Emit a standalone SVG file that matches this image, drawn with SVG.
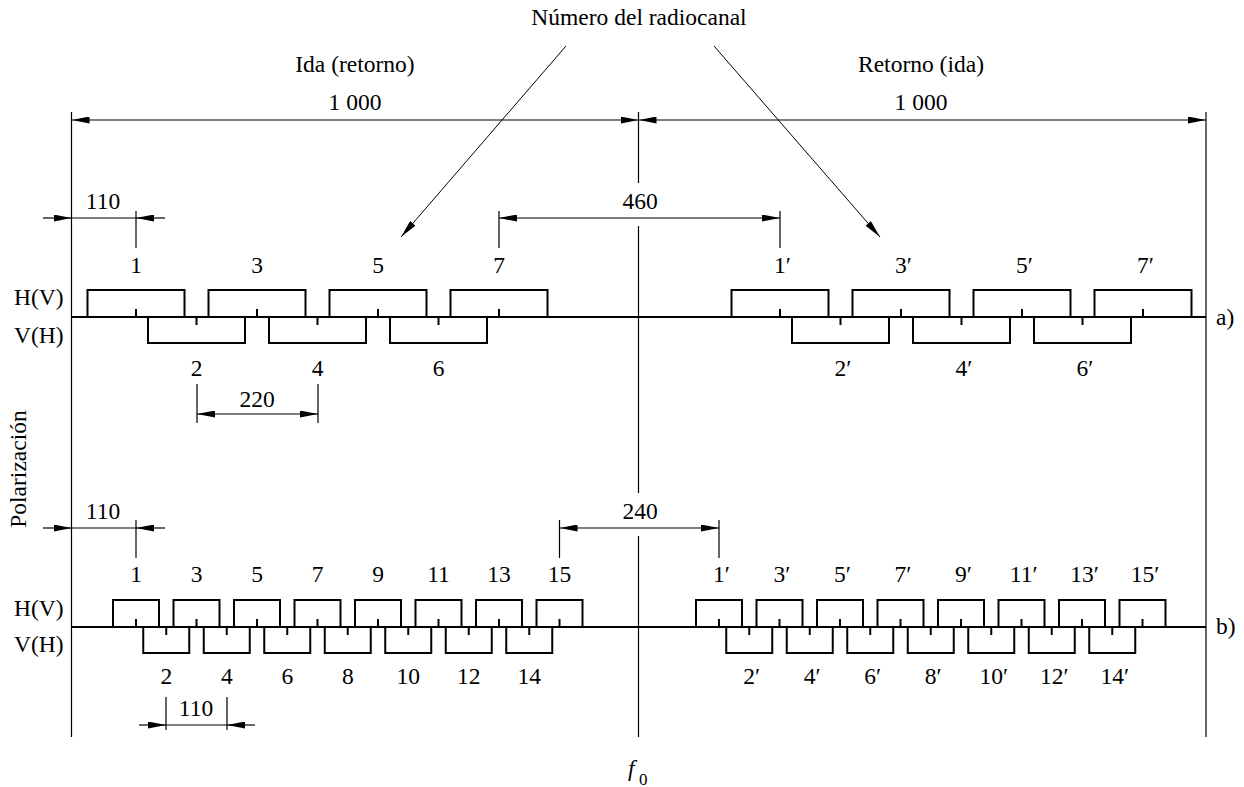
<svg xmlns="http://www.w3.org/2000/svg" width="1244" height="787" viewBox="0 0 1244 787">
<style>
.box{fill:none;stroke:#000;stroke-width:2}
.tk{stroke:#000;stroke-width:2;fill:none}
.ln{stroke:#000;stroke-width:1.2;fill:none}
.pt{stroke:#000;stroke-width:1;fill:none}
.t{font-family:"Liberation Serif","Times New Roman",serif;font-size:23.5px;fill:#000}
.c{text-anchor:middle}
</style>
<defs>
<marker id="ah" viewBox="0 0 18 7" refX="18" refY="3.5" markerWidth="18" markerHeight="7" markerUnits="userSpaceOnUse" orient="auto-start-reverse">
<path d="M0,0 L18,3.5 L0,7 z" fill="#000"/>
</marker>
</defs>
<rect width="1244" height="787" fill="#fff"/>

<g id="frame">
<path class="ln" d="M71.5,112V737"/>
<path class="ln" d="M638.5,112V183M638.5,226V493M638.5,536V737"/>
<path class="ln" d="M1206,112V737"/>
<path class="box" d="M71.5,317H1206"/>
<path class="box" d="M71.5,627H1206"/>
</g>

<g id="labels">
<text class="t c" x="639" y="25">Número del radiocanal</text>
<text class="t c" x="355" y="72">Ida (retorno)</text>
<text class="t c" x="921" y="72">Retorno (ida)</text>
<text class="t c" x="355" y="110">1 000</text>
<text class="t c" x="921" y="110">1 000</text>
<text class="t" x="14" y="305">H(V)</text>
<text class="t" x="14" y="343">V(H)</text>
<text class="t" x="14" y="616">H(V)</text>
<text class="t" x="14" y="652">V(H)</text>
<text class="t" x="1216" y="325">a)</text>
<text class="t" x="1216" y="634">b)</text>
<text class="t c" transform="translate(26,469) rotate(-90)">Polarización</text>
<text class="t" x="628" y="776" font-size="26"><tspan font-style="italic">f</tspan><tspan x="639" y="785" font-size="17">0</tspan></text>
<text class="t c" x="103" y="209">110</text>
<text class="t c" x="640" y="209">460</text>
<text class="t c" x="257" y="407">220</text>
<text class="t c" x="103" y="519">110</text>
<text class="t c" x="640" y="519">240</text>
<text class="t c" x="196" y="716">110</text>
</g>

<g id="connectors">
<path class="pt" d="M566,46L401,237" marker-end="url(#ah)"/>
<path class="pt" d="M714,46L880,237" marker-end="url(#ah)"/>
<path class="ln" d="M71.5,120H638.5" marker-start="url(#ah)" marker-end="url(#ah)"/>
<path class="ln" d="M638.5,120H1206" marker-start="url(#ah)" marker-end="url(#ah)"/>
<path class="ln" d="M43,218H71.5" marker-end="url(#ah)"/>
<path class="ln" d="M71.5,218H136"/>
<path class="ln" d="M165,218H136" marker-end="url(#ah)"/>
<path class="ln" d="M136,211V248"/>
<path class="ln" d="M499,218H780" marker-start="url(#ah)" marker-end="url(#ah)"/>
<path class="ln" d="M499,211V248M780,211V248"/>
<path class="ln" d="M197,414H318" marker-start="url(#ah)" marker-end="url(#ah)"/>
<path class="ln" d="M197,384V423M318,384V423"/>
<path class="ln" d="M43,528H71.5" marker-end="url(#ah)"/>
<path class="ln" d="M71.5,528H136"/>
<path class="ln" d="M165,528H136" marker-end="url(#ah)"/>
<path class="ln" d="M136,520V558"/>
<path class="ln" d="M559.5,528H719" marker-start="url(#ah)" marker-end="url(#ah)"/>
<path class="ln" d="M559.5,520V558M719,520V558"/>
<path class="ln" d="M139,725H166" marker-end="url(#ah)"/>
<path class="ln" d="M166,725H227"/>
<path class="ln" d="M255,725H227" marker-end="url(#ah)"/>
<path class="ln" d="M166,697V730M227,697V730"/>
</g>

<!-- Row a, left -->
<g id="a-1"><path class="box" d="M87.5,317V290H184.5V317"/><path class="tk" d="M136,317V309"/><text class="t c" x="136" y="273">1</text></g>
<g id="a-3"><path class="box" d="M208.5,317V290H305.5V317"/><path class="tk" d="M257,317V309"/><text class="t c" x="257" y="273">3</text></g>
<g id="a-5"><path class="box" d="M329.5,317V290H426.5V317"/><path class="tk" d="M378,317V309"/><text class="t c" x="378" y="273">5</text></g>
<g id="a-7"><path class="box" d="M450.5,317V290H547.5V317"/><path class="tk" d="M499,317V309"/><text class="t c" x="499" y="273">7</text></g>
<g id="a-2"><path class="box" d="M148,317V343H245V317"/><path class="tk" d="M196.5,317V325"/><text class="t c" x="196.5" y="376">2</text></g>
<g id="a-4"><path class="box" d="M269,317V343H366V317"/><path class="tk" d="M317.5,317V325"/><text class="t c" x="317.5" y="376">4</text></g>
<g id="a-6"><path class="box" d="M390,317V343H487V317"/><path class="tk" d="M438.5,317V325"/><text class="t c" x="438.5" y="376">6</text></g>
<!-- Row a, right -->
<g id="a-1p"><path class="box" d="M731.5,317V290H828.5V317"/><path class="tk" d="M780,317V309"/><text class="t" x="774.1" y="273">1′</text></g>
<g id="a-3p"><path class="box" d="M852.5,317V290H949.5V317"/><path class="tk" d="M901,317V309"/><text class="t" x="895.1" y="273">3′</text></g>
<g id="a-5p"><path class="box" d="M973.5,317V290H1070.5V317"/><path class="tk" d="M1022,317V309"/><text class="t" x="1016.1" y="273">5′</text></g>
<g id="a-7p"><path class="box" d="M1094.5,317V290H1191.5V317"/><path class="tk" d="M1143,317V309"/><text class="t" x="1137.1" y="273">7′</text></g>
<g id="a-2p"><path class="box" d="M792,317V343H889V317"/><path class="tk" d="M840.5,317V325"/><text class="t" x="834.6" y="376">2′</text></g>
<g id="a-4p"><path class="box" d="M913,317V343H1010V317"/><path class="tk" d="M961.5,317V325"/><text class="t" x="955.6" y="376">4′</text></g>
<g id="a-6p"><path class="box" d="M1034,317V343H1131V317"/><path class="tk" d="M1082.5,317V325"/><text class="t" x="1076.6" y="376">6′</text></g>

<!-- Row b, left -->
<g id="b-1"><path class="box" d="M113,627V600H159V627"/><path class="tk" d="M136,627V619"/><text class="t c" x="136" y="582">1</text></g>
<g id="b-3"><path class="box" d="M173.5,627V600H219.5V627"/><path class="tk" d="M196.5,627V619"/><text class="t c" x="196.5" y="582">3</text></g>
<g id="b-5"><path class="box" d="M234,627V600H280V627"/><path class="tk" d="M257,627V619"/><text class="t c" x="257" y="582">5</text></g>
<g id="b-7"><path class="box" d="M294.5,627V600H340.5V627"/><path class="tk" d="M317.5,627V619"/><text class="t c" x="317.5" y="582">7</text></g>
<g id="b-9"><path class="box" d="M355,627V600H401V627"/><path class="tk" d="M378,627V619"/><text class="t c" x="378" y="582">9</text></g>
<g id="b-11"><path class="box" d="M415.5,627V600H461.5V627"/><path class="tk" d="M438.5,627V619"/><text class="t c" x="438.5" y="582">11</text></g>
<g id="b-13"><path class="box" d="M476,627V600H522V627"/><path class="tk" d="M499,627V619"/><text class="t c" x="499" y="582">13</text></g>
<g id="b-15"><path class="box" d="M536.5,627V600H582.5V627"/><path class="tk" d="M559.5,627V619"/><text class="t c" x="559.5" y="582">15</text></g>
<g id="b-2"><path class="box" d="M143.25,627V653H189.25V627"/><path class="tk" d="M166.25,627V635"/><text class="t c" x="166.25" y="684">2</text></g>
<g id="b-4"><path class="box" d="M203.75,627V653H249.75V627"/><path class="tk" d="M226.75,627V635"/><text class="t c" x="226.75" y="684">4</text></g>
<g id="b-6"><path class="box" d="M264.25,627V653H310.25V627"/><path class="tk" d="M287.25,627V635"/><text class="t c" x="287.25" y="684">6</text></g>
<g id="b-8"><path class="box" d="M324.75,627V653H370.75V627"/><path class="tk" d="M347.75,627V635"/><text class="t c" x="347.75" y="684">8</text></g>
<g id="b-10"><path class="box" d="M385.25,627V653H431.25V627"/><path class="tk" d="M408.25,627V635"/><text class="t c" x="408.25" y="684">10</text></g>
<g id="b-12"><path class="box" d="M445.75,627V653H491.75V627"/><path class="tk" d="M468.75,627V635"/><text class="t c" x="468.75" y="684">12</text></g>
<g id="b-14"><path class="box" d="M506.25,627V653H552.25V627"/><path class="tk" d="M529.25,627V635"/><text class="t c" x="529.25" y="684">14</text></g>
<!-- Row b, right -->
<g id="b-1p"><path class="box" d="M696,627V600H742V627"/><path class="tk" d="M719,627V619"/><text class="t" x="713.1" y="582">1′</text></g>
<g id="b-3p"><path class="box" d="M756.5,627V600H802.5V627"/><path class="tk" d="M779.5,627V619"/><text class="t" x="773.6" y="582">3′</text></g>
<g id="b-5p"><path class="box" d="M817,627V600H863V627"/><path class="tk" d="M840,627V619"/><text class="t" x="834.1" y="582">5′</text></g>
<g id="b-7p"><path class="box" d="M877.5,627V600H923.5V627"/><path class="tk" d="M900.5,627V619"/><text class="t" x="894.6" y="582">7′</text></g>
<g id="b-9p"><path class="box" d="M938,627V600H984V627"/><path class="tk" d="M961,627V619"/><text class="t" x="955.1" y="582">9′</text></g>
<g id="b-11p"><path class="box" d="M998.5,627V600H1044.5V627"/><path class="tk" d="M1021.5,627V619"/><text class="t" x="1009.75" y="582">11′</text></g>
<g id="b-13p"><path class="box" d="M1059,627V600H1105V627"/><path class="tk" d="M1082,627V619"/><text class="t" x="1070.25" y="582">13′</text></g>
<g id="b-15p"><path class="box" d="M1119.5,627V600H1165.5V627"/><path class="tk" d="M1142.5,627V619"/><text class="t" x="1130.75" y="582">15′</text></g>
<g id="b-2p"><path class="box" d="M726.25,627V653H772.25V627"/><path class="tk" d="M749.25,627V635"/><text class="t" x="743.35" y="684">2′</text></g>
<g id="b-4p"><path class="box" d="M786.75,627V653H832.75V627"/><path class="tk" d="M809.75,627V635"/><text class="t" x="803.85" y="684">4′</text></g>
<g id="b-6p"><path class="box" d="M847.25,627V653H893.25V627"/><path class="tk" d="M870.25,627V635"/><text class="t" x="864.35" y="684">6′</text></g>
<g id="b-8p"><path class="box" d="M907.75,627V653H953.75V627"/><path class="tk" d="M930.75,627V635"/><text class="t" x="924.85" y="684">8′</text></g>
<g id="b-10p"><path class="box" d="M968.25,627V653H1014.25V627"/><path class="tk" d="M991.25,627V635"/><text class="t" x="979.5" y="684">10′</text></g>
<g id="b-12p"><path class="box" d="M1028.75,627V653H1074.75V627"/><path class="tk" d="M1051.75,627V635"/><text class="t" x="1040" y="684">12′</text></g>
<g id="b-14p"><path class="box" d="M1089.25,627V653H1135.25V627"/><path class="tk" d="M1112.25,627V635"/><text class="t" x="1100.5" y="684">14′</text></g>
</svg>
